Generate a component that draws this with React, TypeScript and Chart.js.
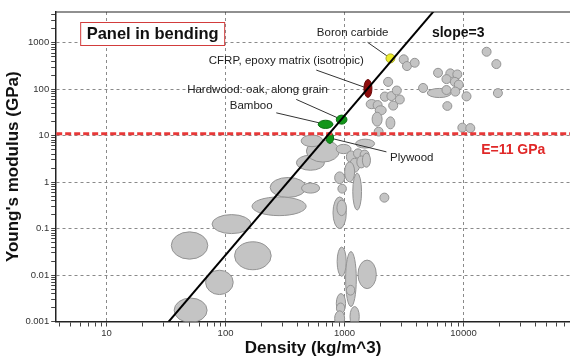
import React, { useEffect, useRef } from 'react';
import { Chart, registerables } from 'chart.js';

Chart.register(...registerables);

// ---------- axis ranges & ticks ----------
const X_MIN = 3.773;
const X_MAX = 78500;
const Y_MIN = 0.001;
const Y_MAX = 4590;

const xTickValues = [10, 100, 1000, 10000];
const xTickLabels = ['10', '100', '1000', '10000'];
const yTickValues = [0.001, 0.01, 0.1, 1, 10, 100, 1000];
const yTickLabels = ['0.001', '0.01', '0.1', '1', '10', '100', '1000'];

// ---------- background materials (property ranges) ----------
const grayRhoLo = [35, 37, 68, 77, 119, 167, 237, 435, 394, 478, 432, 850, 1240, 1035, 1189, 1352, 1104, 1002, 1268, 1413,
  826, 1173, 879, 800, 863, 867, 1021, 1037, 1297, 853, 855, 826, 1112, 1982,
  2880, 3070, 3570, 2130, 5600, 7100, 8130, 6590, 7750, 8360, 4190, 4955, 6590, 7820, 9710, 6700, 14330, 17300, 17830,
  8960, 10450, 2000, 2270, 2520, 2670, 2350, 1520, 1740, 1810, 1705, 2230, 1775];
const grayRhoHi = [71, 70, 116, 164, 242, 476, 477, 618, 678, 906, 658, 1135, 1790, 1256, 1416, 1610, 1340, 1216, 1510, 1652,
  1002, 1390, 1037, 1035, 1037, 1033, 1256, 1219, 1849, 1021, 1005, 1002, 1330, 2360,
  3430, 3650, 4240, 2540, 6660, 8450, 9680, 7850, 9220, 9950, 4990, 7890, 7850, 9310, 11560, 7980, 17050, 20600, 21220,
  10660, 12440, 2380, 2700, 3000, 3180, 2800, 1880, 2070, 2240, 2070, 2650, 2110];
const grayELo = [0.022, 0.00095, 0.0038, 0.078, 0.013, 0.19, 0.47, 0.58, 1.8, 2.7, 5.8, 4.1, 5.4, 2.6, 3.3, 3.0, 1.63, 1.01, 2.02, 2.09,
  0.93, 0.25, 0.58, 0.1, 0.19, 0.0094, 0.0021, 0.0037, 0.0051, 0.0015, 0.0015, 0.00079, 0.00078, 0.37,
  350, 252, 297, 115, 180, 175, 167, 132, 115, 100, 85, 66, 77, 71, 56, 35, 512, 278, 66,
  11.9, 11.6, 55, 57, 75, 48, 35.5, 38, 36, 28, 16, 14, 9.8];
const grayEHi = [0.085, 0.0032, 0.0127, 0.2, 0.052, 0.48, 1.26, 0.95, 3.8, 8.0, 10.3, 6.5, 8.4, 4.7, 5.2, 4.9, 3.27, 2.73, 3.66, 4.2,
  1.66, 1.56, 0.9, 0.48, 0.41, 0.04, 0.032, 0.006, 0.021, 0.004, 0.0025, 0.0017, 0.0021, 0.58,
  550, 394, 463, 180, 282, 274, 260, 206, 180, 157, 133, 104, 120, 111, 88, 54, 800, 434, 103,
  18.6, 18.2, 87, 89, 117, 75, 55.5, 60, 57, 44, 32, 25.4, 15.2];

// ---------- highlighted materials ----------
const hlNames = ['Boron carbide', 'CFRP, epoxy matrix (isotropic)', 'Hardwood: oak, along grain', 'Bamboo', 'Plywood'];
const hlRhoLo = [2230, 1456, 853, 601, 700];
const hlRhoHi = [2650, 1700, 1049, 799, 809];
const hlELo = [369, 66.5, 17.7, 14.3, 6.8];
const hlEHi = [576, 162, 27.7, 21.5, 11.7];
const labelRho = [1170, 324, 185.6, 164.3, 3673];
const labelE = [1618, 403, 99, 43.3, 3.33];
const leaderRho = [1563, 579, 393, 267, 2250];
const leaderE = [1020, 258, 60.3, 31, 4.48];

// ---------- guide lines ----------
const slopeRho = [30, 6000];
const slopeE = [0.000727, 5810];
const targetE = 11;
const slopeLabel = 'slope=3';
const slopeLabelRho = 9017;
const slopeLabelE = 1596;
const targetLabel = 'E=11 GPa';
const targetLabelRho = 26180;
const targetLabelE = 4.87;
const panelTitle = 'Panel in bending';

// ---------- styles ----------
const FONT = '"Liberation Sans", Arial, sans-serif';
const hlFill = ['#ecec2a', '#8e0c0c', '#12961a', '#12961a', '#12961a'];
const hlStroke = ['#a8a820', '#6a0808', '#0c7012', '#0c7012', '#0c7012'];

const isDecade = (v: number) => Math.abs(Math.log10(v) - Math.round(Math.log10(v))) < 1e-9;
const labelFor = (v: number, vals: number[], labels: string[]) => {
  for (let i = 0; i < vals.length; i++) {
    if (Math.abs(v / vals[i] - 1) < 1e-9) return labels[i];
  }
  return '';
};
const logTicks = (min: number, max: number) => {
  const out: { value: number }[] = [];
  for (let e = Math.floor(Math.log10(min)); e <= Math.ceil(Math.log10(max)); e++) {
    for (let d = 1; d <= 9; d++) {
      const v = Number((d * Math.pow(10, e)).toPrecision(6));
      if (v >= min && v <= max) out.push({ value: v });
    }
  }
  return out;
};

const ashbyPlugin = {
  id: 'ashby',
  beforeDatasetsDraw(chart: any) {
    const { ctx, chartArea: a, scales } = chart;
    const x = scales.x, y = scales.y;
    ctx.save();
    ctx.beginPath();
    ctx.rect(a.left, a.top, a.right - a.left, a.bottom - a.top);
    ctx.clip();
    const ell = (rl: number, rh: number, el: number, eh: number, fill: string, stroke: string) => {
      const x1 = x.getPixelForValue(rl), x2 = x.getPixelForValue(rh);
      const y1 = y.getPixelForValue(el), y2 = y.getPixelForValue(eh);
      ctx.beginPath();
      ctx.ellipse((x1 + x2) / 2, (y1 + y2) / 2, Math.abs(x2 - x1) / 2, Math.abs(y2 - y1) / 2, 0, 0, Math.PI * 2);
      ctx.fillStyle = fill;
      ctx.fill();
      ctx.strokeStyle = stroke;
      ctx.lineWidth = 1;
      ctx.stroke();
    };
    for (let i = 0; i < grayRhoLo.length; i++) {
      ell(grayRhoLo[i], grayRhoHi[i], grayELo[i], grayEHi[i], '#c4c4c4', '#939393');
    }
    // leader lines
    ctx.strokeStyle = '#333';
    ctx.lineWidth = 1;
    for (let i = 0; i < hlNames.length; i++) {
      const cx = (x.getPixelForValue(hlRhoLo[i]) + x.getPixelForValue(hlRhoHi[i])) / 2;
      const cy = (y.getPixelForValue(hlELo[i]) + y.getPixelForValue(hlEHi[i])) / 2;
      ctx.beginPath();
      ctx.moveTo(x.getPixelForValue(leaderRho[i]), y.getPixelForValue(leaderE[i]));
      ctx.lineTo(cx, cy);
      ctx.stroke();
    }
    for (let i = 0; i < hlNames.length; i++) {
      ell(hlRhoLo[i], hlRhoHi[i], hlELo[i], hlEHi[i], hlFill[i], hlStroke[i]);
    }
    ctx.restore();
  },
  afterDatasetsDraw(chart: any) {
    const { ctx, chartArea: a, scales } = chart;
    const x = scales.x, y = scales.y;
    ctx.save();
    // top frame line
    ctx.strokeStyle = '#222';
    ctx.lineWidth = 1.2;
    ctx.beginPath();
    ctx.moveTo(a.left, a.top);
    ctx.lineTo(a.right, a.top);
    ctx.stroke();

    ctx.textAlign = 'center';
    ctx.textBaseline = 'middle';
    ctx.fillStyle = '#222';
    ctx.font = `11.5px ${FONT}`;
    for (let i = 0; i < hlNames.length; i++) {
      ctx.fillText(hlNames[i], x.getPixelForValue(labelRho[i]), y.getPixelForValue(labelE[i]));
    }
    ctx.font = `bold 14px ${FONT}`;
    ctx.fillStyle = '#111';
    ctx.fillText(slopeLabel, x.getPixelForValue(slopeLabelRho), y.getPixelForValue(slopeLabelE));
    ctx.fillStyle = '#e02828';
    ctx.fillText(targetLabel, x.getPixelForValue(targetLabelRho), y.getPixelForValue(targetLabelE));

    // panel title box
    const bx = a.left + 24, by = a.top + 10, bw = 144, bh = 23;
    ctx.fillStyle = '#fff';
    ctx.fillRect(bx, by, bw, bh);
    ctx.strokeStyle = '#d23c3c';
    ctx.lineWidth = 1;
    ctx.strokeRect(bx + 0.5, by + 0.5, bw, bh);
    ctx.fillStyle = '#111';
    ctx.font = `bold 16.5px ${FONT}`;
    ctx.fillText(panelTitle, bx + bw / 2 + 0.5, by + bh / 2 + 1);
    ctx.restore();
  },
};

export default function App() {
  const ref = useRef<HTMLCanvasElement | null>(null);
  useEffect(() => {
    if (!ref.current) return;
    const chart = new Chart(ref.current, {
      type: 'scatter',
      data: {
        datasets: [
          {
            data: slopeRho.map((r, i) => ({ x: r, y: slopeE[i] })),
            showLine: true,
            borderColor: '#000',
            borderWidth: 2,
            pointRadius: 0,
          },
          {
            data: [{ x: X_MIN, y: targetE }, { x: X_MAX, y: targetE }],
            showLine: true,
            borderColor: 'rgb(232,56,56)',
            borderWidth: 3,
            borderDash: [6, 3],
            pointRadius: 0,
          },
        ],
      },
      options: {
        animation: false,
        responsive: false,
        layout: { padding: { left: 3, top: 12, right: 0, bottom: 0 } },
        plugins: { legend: { display: false }, tooltip: { enabled: false } },
        scales: {
          x: {
            type: 'logarithmic',
            min: X_MIN,
            max: X_MAX,
            afterBuildTicks: (s: any) => { s.ticks = logTicks(X_MIN, X_MAX); },
            ticks: {
              autoSkip: false,
              maxRotation: 0,
              minRotation: 0,
              padding: 2,
              color: '#333',
              font: { size: 9.5, family: FONT, lineHeight: 1 },
              callback: (v: any) => labelFor(Number(v), xTickValues, xTickLabels),
            },
            grid: {
              color: (c: any) => (c.tick && isDecade(c.tick.value) ? '#8a8a8a' : 'rgba(0,0,0,0)'),
              tickColor: '#444',
              tickLength: 5,
              lineWidth: 1,
            },
            border: { display: true, color: '#222', width: 1.5, dash: [3, 3] },
            title: {
              display: true,
              text: 'Density (kg/m^3)',
              color: '#111',
              padding: 0,
              font: { size: 17, weight: 'bold', family: FONT, lineHeight: 1.0 },
            },
          },
          y: {
            type: 'logarithmic',
            min: Y_MIN,
            max: Y_MAX,
            afterBuildTicks: (s: any) => { s.ticks = logTicks(Y_MIN, Y_MAX); },
            ticks: {
              autoSkip: false,
              padding: 2,
              color: '#333',
              font: { size: 9.5, family: FONT, lineHeight: 1 },
              callback: (v: any) => labelFor(Number(v), yTickValues, yTickLabels),
            },
            grid: {
              color: (c: any) => (c.tick && isDecade(c.tick.value) ? '#8a8a8a' : 'rgba(0,0,0,0)'),
              tickColor: '#444',
              tickLength: 5,
              lineWidth: 1,
            },
            border: { display: true, color: '#222', width: 1.5, dash: [3, 3] },
            title: {
              display: true,
              text: "Young's modulus (GPa)",
              color: '#111',
              padding: 0,
              font: { size: 17, weight: 'bold', family: FONT, lineHeight: 1.2 },
            },
          },
        },
      } as any,
      plugins: [ashbyPlugin],
    });
    return () => chart.destroy();
  }, []);
  return (
    <div style={{ position: 'absolute', left: 0, top: 0, width: 570, height: 357, background: '#fff' }}>
      <canvas ref={ref} width={570} height={357} style={{ display: 'block' }} />
    </div>
  );
}
